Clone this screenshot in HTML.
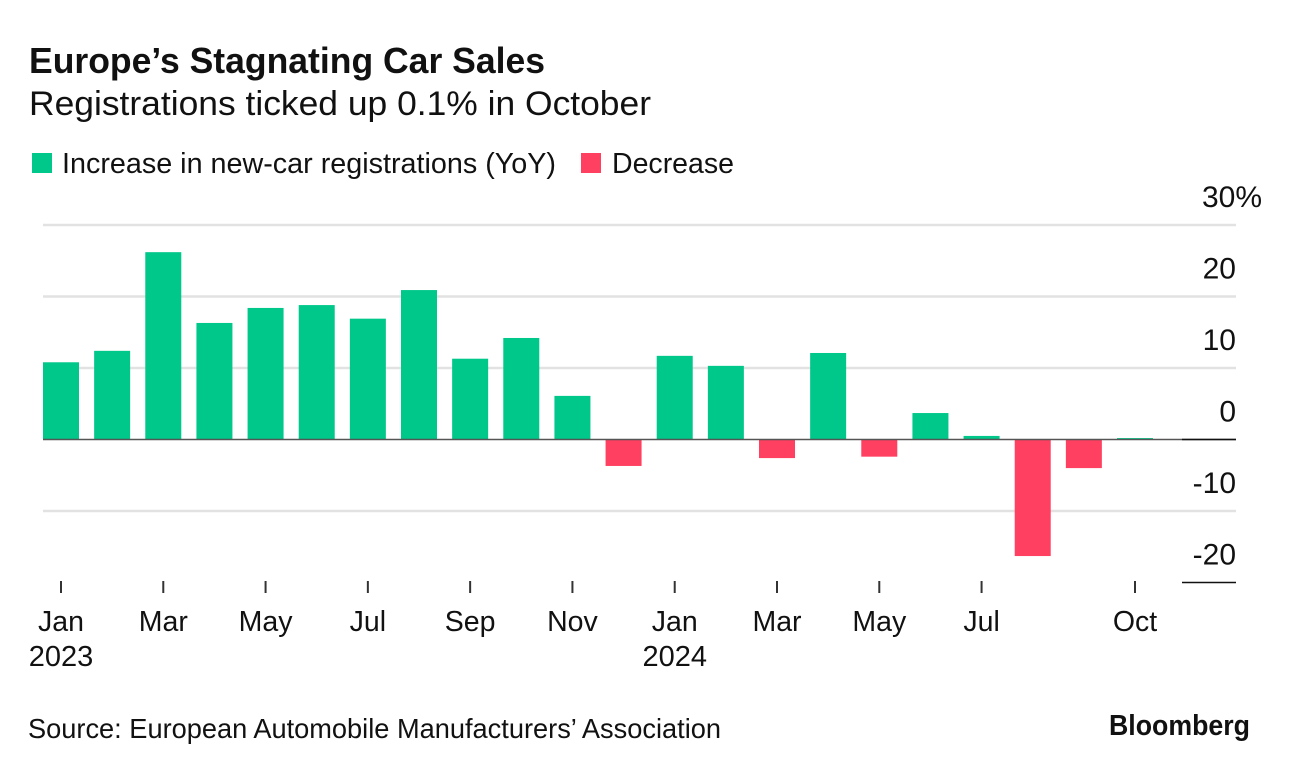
<!DOCTYPE html>
<html lang="en">
<head>
<meta charset="utf-8">
<title>Europe's Stagnating Car Sales</title>
<style>
html,body{margin:0;padding:0;background:#fff;}
body{width:1289px;height:770px;overflow:hidden;}
svg{display:block;}
text{font-family:"Liberation Sans",sans-serif;fill:#111;}
</style>
</head>
<body>
<svg id="chart" width="1289" height="770" viewBox="0 0 1289 770" xmlns="http://www.w3.org/2000/svg">
  <rect x="0" y="0" width="1289" height="770" fill="#fff"/>
  <text x="29" y="73" font-size="36" font-weight="700" textLength="516" lengthAdjust="spacingAndGlyphs">Europe’s Stagnating Car Sales</text>
  <text x="29" y="115" font-size="34" textLength="622" lengthAdjust="spacingAndGlyphs">Registrations ticked up 0.1% in October</text>
  <rect x="32" y="153" width="20" height="20" fill="#00c78a"/>
  <text x="62" y="173" font-size="29" textLength="494" lengthAdjust="spacingAndGlyphs">Increase in new-car registrations (YoY)</text>
  <rect x="581" y="153" width="20" height="20" fill="#ff4060"/>
  <text x="612" y="173" font-size="29" textLength="122" lengthAdjust="spacingAndGlyphs">Decrease</text>
  <g id="grid"></g>
  <g id="bars"></g>
  <g id="axis-lines"></g>
  <g id="y-axis"></g>
  <g id="x-axis"></g>
  <text x="28" y="738" font-size="27.5" textLength="693" lengthAdjust="spacingAndGlyphs">Source: European Automobile Manufacturers’ Association</text>
  <text x="1109" y="735" font-size="29" font-weight="700" textLength="141" lengthAdjust="spacingAndGlyphs">Bloomberg</text>
</svg>
<script>
const months = ["Jan 2023","Feb 2023","Mar 2023","Apr 2023","May 2023","Jun 2023","Jul 2023","Aug 2023","Sep 2023","Oct 2023","Nov 2023","Dec 2023","Jan 2024","Feb 2024","Mar 2024","Apr 2024","May 2024","Jun 2024","Jul 2024","Aug 2024","Sep 2024","Oct 2024"];
const registrations = [10.8,12.4,26.2,16.3,18.4,18.8,16.9,20.9,11.3,14.2,6.1,-3.7,11.7,10.3,-2.6,12.1,-2.4,3.7,0.5,-16.3,-4.0,0.2];
const yTicks = [30,20,10,0,-10,-20];
const gridTicks = [30,20,10,-10];
const xTickMonths = ["Jan 2023","Mar 2023","May 2023","Jul 2023","Sep 2023","Nov 2023","Jan 2024","Mar 2024","May 2024","Jul 2024","Oct 2024"];
const xTickLabels = ["Jan","Mar","May","Jul","Sep","Nov","Jan","Mar","May","Jul","Oct"];
const yearLabels = [["Jan 2023","2023"],["Jan 2024","2024"]];

const NS = "http://www.w3.org/2000/svg";
const xCenter = i => 61 + i * 51.143;
const yScale = v => 439.5 - v * 7.15;
const barWidth = 36;
const UP = "#00c78a", DOWN = "#ff4060";

function make(tag, attrs, parent, content) {
  const el = document.createElementNS(NS, tag);
  Object.keys(attrs).forEach(k => el.setAttribute(k, attrs[k]));
  if (content !== undefined) el.textContent = content;
  parent.appendChild(el);
  return el;
}

const gridG = document.getElementById("grid");
gridTicks.forEach(t => {
  const line = make("line", {x1: 43, x2: 1236, y1: yScale(t), y2: yScale(t), stroke: "#e2e2e2", "stroke-width": 2.5}, gridG);
  
  
});

const axisG = document.getElementById("axis-lines");
const zero = make("line", {x1: 43, x2: 1236, y1: yScale(0), y2: yScale(0), stroke: "#555", "stroke-width": 1.5}, axisG);


const zeroStub = make("line", {x1: 1182, x2: 1236, y1: yScale(0), y2: yScale(0), stroke: "#111", "stroke-width": 1.5}, axisG);


const lowStub = make("line", {x1: 1182, x2: 1236, y1: yScale(-20), y2: yScale(-20), stroke: "#111", "stroke-width": 1.5}, axisG);



const barsG = document.getElementById("bars");
registrations.forEach((v, i) => {
  const y0 = yScale(Math.max(v, 0));
  const y1 = yScale(Math.min(v, 0));
  const bar = make("rect", {x: xCenter(i) - barWidth / 2, y: y0, width: barWidth, height: y1 - y0, fill: v >= 0 ? UP : DOWN}, barsG);
  
  
  make("title", {}, bar, months[i] + ": " + v + "%");
});

const yG = document.getElementById("y-axis");
yTicks.forEach(t => {
  const label = make("text", {x: t === 30 ? 1202 : 1236, y: yScale(t) - 18, "font-size": 30, "text-anchor": t === 30 ? "start" : "end"}, yG, t === 30 ? t + "%" : String(t));
  
  
});

const xG = document.getElementById("x-axis");
xTickMonths.forEach((m, i) => {
  const cx = xCenter(months.indexOf(m));
  const tick = make("line", {x1: cx, x2: cx, y1: 581, y2: 593, stroke: "#333", "stroke-width": 2}, xG);
  
  
  const label = make("text", {x: cx, y: 631, "font-size": 28.5, "text-anchor": "middle"}, xG, xTickLabels[i]);
  
  
});
yearLabels.forEach(pair => {
  const cx = xCenter(months.indexOf(pair[0]));
  const label = make("text", {x: cx, y: 666, "font-size": 29, "text-anchor": "middle"}, xG, pair[1]);
  
  
});
</script>
</body>
</html>
